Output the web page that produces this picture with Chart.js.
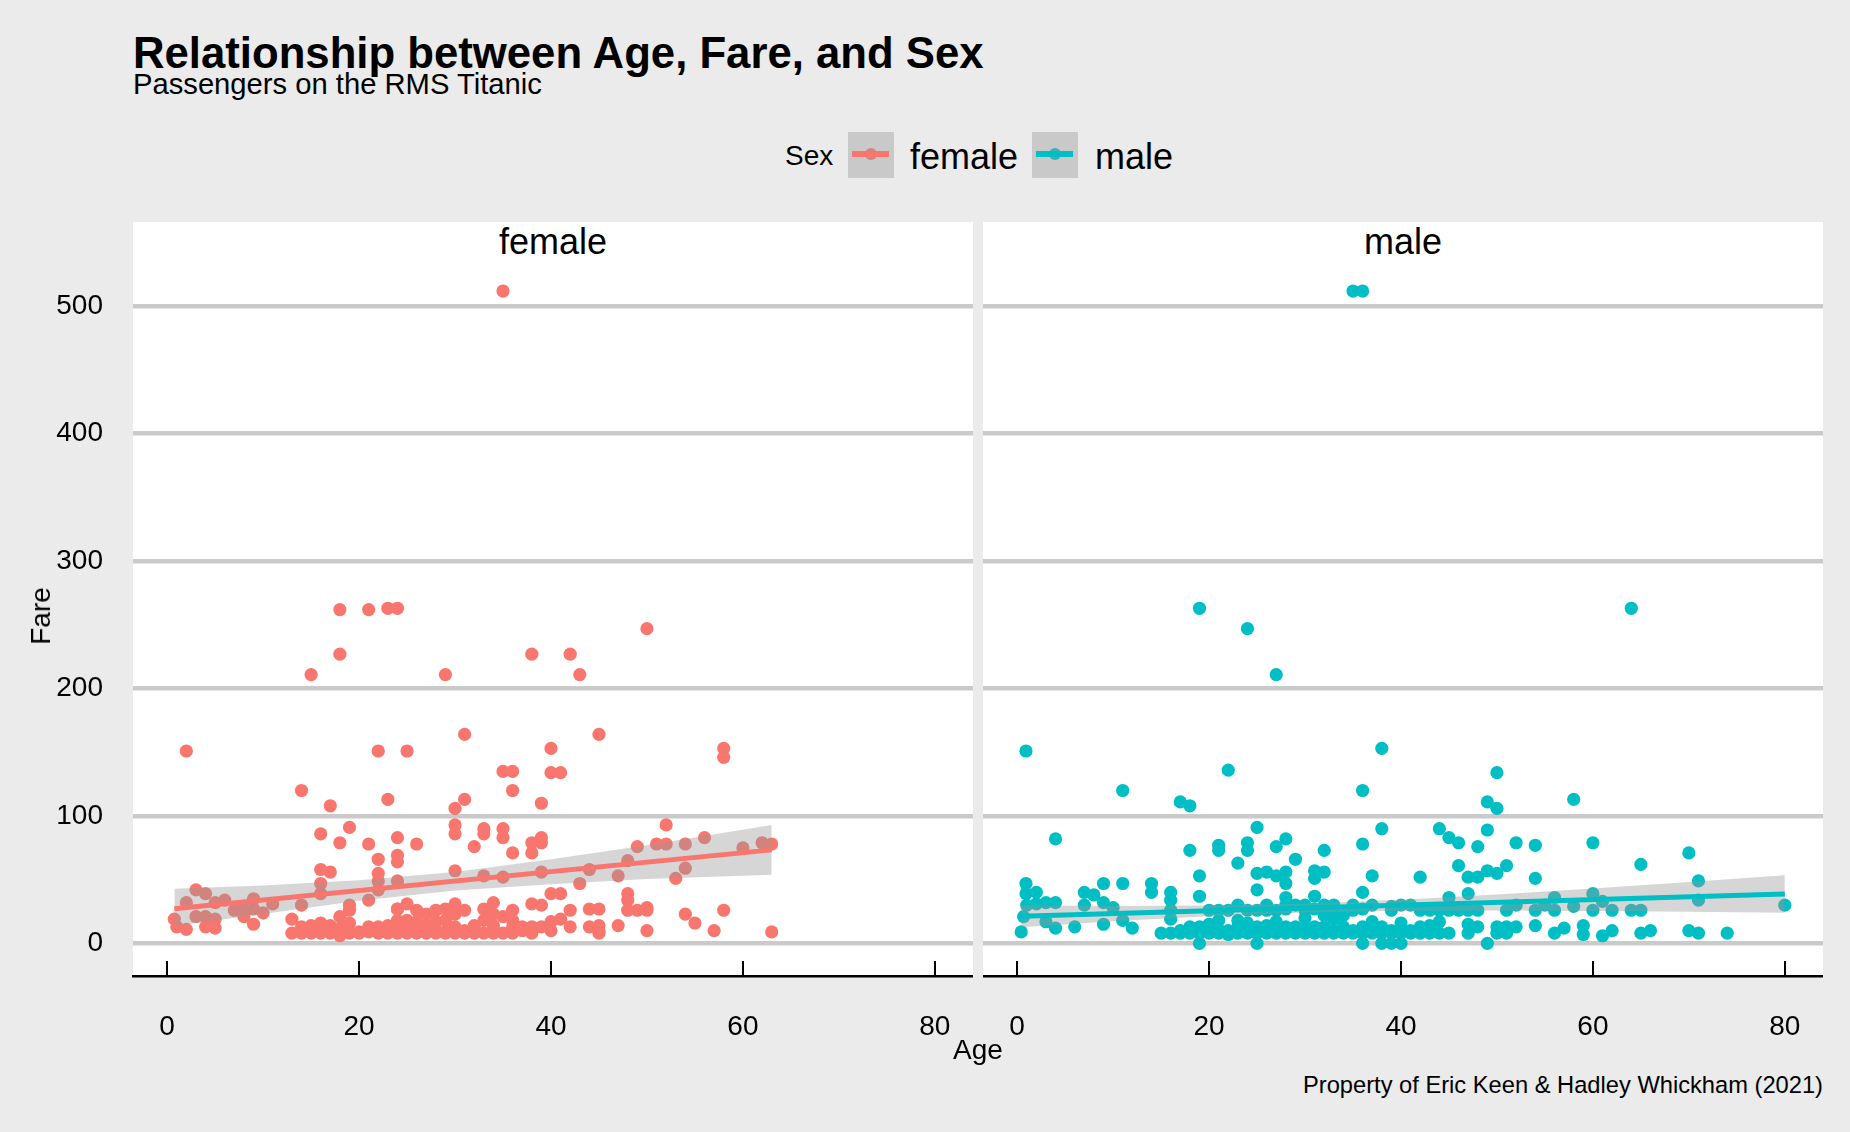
<!DOCTYPE html>
<html>
<head>
<meta charset="utf-8">
<script src="https://cdn.jsdelivr.net/npm/chart.js@4.4.1/dist/chart.umd.min.js"></script>
<style>
body { margin:0; width:1850px; height:1132px; background:#ebebeb; position:relative; overflow:hidden;
       font-family:"Liberation Sans", Arial, sans-serif; color:#000; }
.t { position:absolute; white-space:nowrap; line-height:1; }
.panel { position:absolute; top:222px; width:840px; height:754px; background:#fff; }
.key { position:absolute; top:132px; width:46px; height:46px; background:#c9c9c9; }
.key i { position:absolute; left:4px; right:5px; top:152px; height:6px; top:19px; }
.key b { position:absolute; left:17px; top:16px; width:12px; height:12px; border-radius:50%; }
canvas { position:absolute; }
</style>
</head>
<body>
<div class="t" style="left:133px;top:31px;font-size:43.7px;font-weight:bold">Relationship between Age, Fare, and Sex</div>
<div class="t" style="left:133px;top:70px;font-size:29.2px">Passengers on the RMS Titanic</div>

<div class="t" style="left:785px;top:142px;font-size:28px">Sex</div>
<div class="key" style="left:848px"><b style="background:#d2847f"></b><i style="background:#F8766D"></i></div>
<div class="t" style="left:910px;top:138.5px;font-size:36px">female</div>
<div class="key" style="left:1032px"><b style="background:#3db0b3"></b><i style="background:#00BFC4"></i></div>
<div class="t" style="left:1095px;top:138.5px;font-size:36px">male</div>

<div class="panel" style="left:133px"></div>
<div class="panel" style="left:983px"></div>
<div class="t" style="left:553px;top:224px;font-size:36px;transform:translateX(-50%)">female</div>
<div class="t" style="left:1403px;top:224px;font-size:36px;transform:translateX(-50%)">male</div>

<canvas id="female" width="973" height="800" style="left:0;top:256px"></canvas>
<canvas id="male" width="840" height="800" style="left:983px;top:256px"></canvas>

<div class="t" style="left:41px;top:616px;font-size:28px;transform:translate(-50%,-50%) rotate(-90deg)">Fare</div>
<div class="t" style="left:978px;top:1036px;font-size:28px;transform:translateX(-50%)">Age</div>
<div class="t" style="right:27px;top:1074px;font-size:23.7px">Property of Eric Keen &amp; Hadley Whickham (2021)</div>

<script>
// tick labels
const ageTicks = [0, 20, 40, 60, 80];
const fareTicks = [0, 100, 200, 300, 400, 500];

// female passengers: age / fare
const femaleAge = [
  35,18,21,23,24,18,15,29,38,42,43,50,2,31,22,25,40,35,36,40,41,14,36,17,23,30,31,39,45,58,58,
  16,19,18,21,24,26,30,30,33,33,35,35,32,36,38,38,39,39,22,24,24,16,17,22,22,24,16,16,30,33,35,39,22,21,19,14,24,
  52,49,51,52,54,56,60,62,63,48,44,54,47,53,43,48,48,44,45,48,49,50,50,54,55,57,58,63,50,47,45,45,
  3,4,2,5,6,9,7,8,9,10,11,3,4,5,0.75,1,2,4,5,8,9,13,13,
  14,15,16,17,18,18,19,19,20,21,22,23,23,24,24,24,25,25,25,26,26,26,27,27,28,28,28,29,29,29,
  30,30,30,30,31,31,32,33,33,34,34,34,35,36,36,36,37,38,38,39,40,41,40,40,41,42,42,
  14,15,17,18,20,21,22,23,24,25,26,27,28,29,31,32,33,34,35,22,18,19,16,21,38,39,44,36,37,27,30,45,32,34
];
const femaleFare = [
  512,262,262,263,263,227,211,211,227,227,211,247,151,164,151,151,153,135,135,134,134,120,120,108,113,106,113,110,164,153,146,
  86,91,79,78,83,78,93,86,90,86,90,83,76,71,79,71,83,79,66,69,64,58,56,55,49,49,47,39,57,53,52,56,42,34,30,30,27,
  93,76,78,78,78,83,75,79,78,65,58,59,53,51,47,39,34,27,27,26,26,28,26,23,16,10,26,9,10,14,14,8,
  42,39,32,32,34,35,26,27,27,24,31,21,21,19,19,13,11,13,12,21,15,19,8,
  13,14,8,14,21,6,26,8,9,9,8,14,8,27,18,8,31,18,8,26,17,8,23,8,26,17,8,27,18,9,
  31,23,13,8,26,8,14,27,18,32,23,11,21,26,13,18,10,31,13,30,39,39,17,10,19,26,13,
  8,8,8,8,8,13,10,10,14,10,13,14,11,8,10,8,8,8,8,13,12,16,16,11,8,13,13,8,13,11,10,10,13,14
];

// male passengers: age / fare
const maleAge = [
  35,36,19,24,27,64,0.92,11,22,17,18,36,38,50,49,50,58,
  38,4,25,21,21,24,24,18,27,28,23,29,32,36,19,25,26,27,28,28,31,31,32,37,42,44,45,46,48,49,52,54,60,70,46,47,48,49,50,51,54,65,71,
  0.92,0.92,2,7,8,9,11,14,14,16,16,19,25,31,36,28,45,47,56,60,61,71,80,
  1,2,3,4,7,9,10,40,42,43,45,46,47,48,51,52,54,55,56,58,60,62,64,65,
  0.67,3,4,6,9,11,12,0.42,16,16,17,15,19,25,36,38,39,40,49,
  43,44,45,47,47,48,50,50,51,51,52,54,56,57,59,59,61,62,65,66,70,71,74,
  16,17,18,18,19,19,20,20,21,21,21,22,22,22,23,23,24,24,25,25,25,26,26,26,27,27,27,28,28,28,29,29,29,30,
  30,30,31,31,32,32,32,33,33,33,34,34,34,35,35,35,36,36,36,37,37,38,38,39,39,39,40,40,41,41,42,42,43,44,
  23,27,30,33,37,40,20,32,22,24,26,28,30,34,36,31,29,19,44,20,24,31,35,37,39,41,26,28,30,33,23,21
];
const maleFare = [
  512,512,263,247,211,263,151,120,136,111,108,120,153,134,111,106,113,
  90,82,91,77,73,79,73,73,76,82,63,66,73,78,53,55,56,53,56,47,57,51,56,53,52,90,83,79,76,89,79,77,79,71,61,52,52,57,55,61,51,62,49,
  47,39,40,40,38,47,47,47,40,40,34,37,42,37,40,36,36,39,36,39,33,34,30,
  30,31,32,32,30,32,28,30,26,26,26,26,26,26,26,30,26,30,26,29,26,26,26,26,
  21,17,12,13,15,18,12,9,26,19,10,8,0,0,0,0,0,0,0,
  8,17,8,15,8,13,13,8,13,8,13,14,8,12,14,7,6,10,8,10,10,8,8,
  8,8,8,13,8,10,8,9,8,11,26,8,10,26,8,13,8,16,8,13,26,8,14,30,8,10,26,8,13,27,8,10,30,8,
  13,26,8,10,8,13,30,8,10,26,8,13,22,8,10,26,8,13,27,8,10,8,13,8,10,26,8,13,8,10,8,13,14,8,
  18,17,20,19,17,16,15,22,7,10,11,10,10,10,10,13,13,13,26,26,26,27,30,30,29,30,26,30,30,30,30,18
];

// linear fits and confidence bands
const femaleFitAge = [0.75, 63];
const femaleFitFare = [27.2, 73.4];
const femaleBandAge = [0.75, 10, 20, 30, 40, 50, 63];
const femaleBandHi = [42.9, 45.5, 49.5, 56, 66, 77, 93];
const femaleBandLo = [13.6, 23, 33.5, 41.5, 46.5, 50.5, 53.8];

const maleFitAge = [0.42, 80];
const maleFitFare = [21.2, 38.7];
const maleBandAge = [0.42, 10, 20, 30, 40, 50, 60, 70, 80];
const maleBandHi = [29.7, 29.3, 29.7, 31.2, 34.2, 38.4, 43.1, 48.1, 53.4];
const maleBandLo = [12.7, 17.3, 21.3, 24.2, 25.6, 25.8, 25.5, 24.9, 24.0];

Chart.defaults.font.family = '"Liberation Sans", Arial, sans-serif';
Chart.defaults.color = '#000';

const xy = (xs, ys) => xs.map((v, i) => ({x: v, y: ys[i]}));

// little tick marks pointing up from the x axis line
const tickMarks = {
	id: 'tickMarks',
	afterDraw(chart) {
		const sx = chart.scales.x, ctx = chart.ctx, bottom = chart.chartArea.bottom;
		ctx.save();
		ctx.strokeStyle = '#000';
		ctx.lineWidth = 2;
		sx.ticks.forEach(t => {
			const px = Math.round(sx.getPixelForValue(t.value));
			ctx.beginPath();
			ctx.moveTo(px, bottom);
			ctx.lineTo(px, bottom - 15);
			ctx.stroke();
		});
		ctx.restore();
	}
};

function makePanel(id, ages, fares, fitAge, fitFare, bandAge, bandHi, bandLo, color, showY) {
	const ctx = document.getElementById(id).getContext('2d');
	return new Chart(ctx, {
		type: 'scatter',
		data: {
			datasets: [
				{ data: xy(ages, fares), backgroundColor: color, borderWidth: 0, pointRadius: 6.6, order: 3 },
				{ type: 'line', data: xy(bandAge, bandHi), borderWidth: 0, pointRadius: 0,
				  fill: '+1', backgroundColor: 'rgba(153,153,153,0.4)', order: 2 },
				{ type: 'line', data: xy(bandAge, bandLo), borderWidth: 0, pointRadius: 0, fill: false, order: 2 },
				{ type: 'line', data: xy(fitAge, fitFare), borderColor: color, borderWidth: 5,
				  pointRadius: 0, fill: false, order: 1 }
			]
		},
		options: {
			responsive: false,
			animation: false,
			devicePixelRatio: 1,
			layout: { padding: 0, autoPadding: false },
			plugins: { legend: { display: false }, tooltip: { enabled: false } },
			scales: {
				x: {
					type: 'linear', min: -3.56, max: 83.98,
					afterBuildTicks: s => { s.ticks = ageTicks.map(v => ({value: v})); },
					afterFit: s => { s.height = 80; s.paddingLeft = 0; s.paddingRight = 0; },
					grid: { display: false, drawTicks: false },
					border: { display: true, color: '#000', width: 2.5 },
					ticks: { font: { size: 28 }, padding: 34, color: '#000', maxRotation: 0 }
				},
				y: {
					type: 'linear', min: -25.6, max: 539.5,
					afterBuildTicks: s => { s.ticks = fareTicks.map(v => ({value: v})); },
					afterFit: s => { s.width = showY ? 133 : 0; s.paddingTop = 0; s.paddingBottom = 0; },
					grid: { color: '#cacaca', lineWidth: 4.5, drawTicks: false },
					border: { display: false },
					ticks: { display: showY, font: { size: 28 }, padding: 30, color: '#000' }
				}
			}
		},
		plugins: [tickMarks]
	});
}

window.chartFemale = makePanel('female', femaleAge, femaleFare, femaleFitAge, femaleFitFare,
	femaleBandAge, femaleBandHi, femaleBandLo, '#F8766D', true);
window.chartMale = makePanel('male', maleAge, maleFare, maleFitAge, maleFitFare,
	maleBandAge, maleBandHi, maleBandLo, '#00BFC4', false);
</script>
</body>
</html>
